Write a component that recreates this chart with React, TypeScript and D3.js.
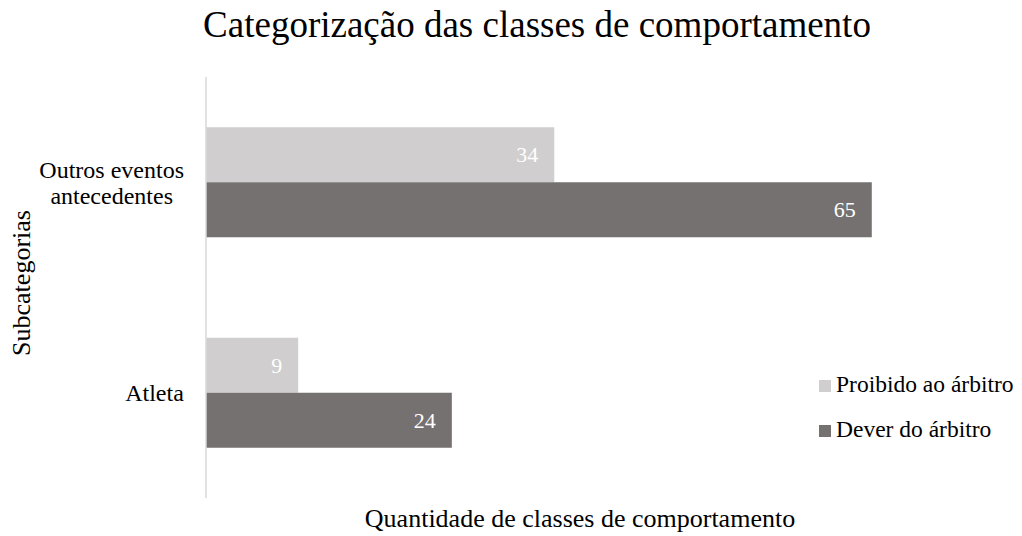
import React, { useEffect, useRef } from "react";
import * as d3 from "d3";

// data
const categories = ["Outros eventos antecedentes", "Atleta"];
const categoryLines = [["Outros eventos", "antecedentes"], ["Atleta"]];
const seriesNames = ["Proibido ao árbitro", "Dever do árbitro"];
const proibidoValues = [34, 9];
const deverValues = [65, 24];
const seriesColors = ["#d0cece", "#767171"];

const FONT = "'Liberation Serif', 'Times New Roman', serif";

const App = () => {
  const ref: any = useRef(null);
  const width = 1022;
  const height = 536;
  const margin = { top: 77, right: 99, bottom: 38, left: 206 };

  useEffect(() => {
    const root = d3.select(ref.current);
    root.selectAll("*").remove();

    const svg = root
      .append("svg")
      .attr("width", width)
      .attr("height", height)
      .style("display", "block")
      .style("font-family", FONT);

    const x = d3
      .scaleLinear()
      .domain([0, 70])
      .range([margin.left, width - margin.right]);

    const y = d3
      .scaleBand()
      .domain(categories)
      .range([margin.top, height - margin.bottom])
      .paddingInner(0.4774)
      .paddingOuter(0.2387);

    const ySeries = d3
      .scaleBand()
      .domain(seriesNames)
      .range([0, y.bandwidth()]);

    const allValues = [proibidoValues, deverValues];

    // bars + value labels
    seriesNames.forEach((name, si) => {
      const g = svg.append("g");
      g.selectAll("rect")
        .data(categories)
        .join("rect")
        .attr("x", x(0))
        .attr("y", (c) => (y(c) || 0) + (ySeries(name) || 0))
        .attr("width", (c, i) => x(allValues[si][i]) - x(0))
        .attr("height", ySeries.bandwidth())
        .attr("fill", seriesColors[si]);

      g.selectAll("text")
        .data(categories)
        .join("text")
        .attr("x", (c, i) => x(allValues[si][i]) - 16)
        .attr("y", (c) => (y(c) || 0) + (ySeries(name) || 0) + ySeries.bandwidth() / 2)
        .attr("dy", "0.35em")
        .attr("text-anchor", "end")
        .attr("fill", "#ffffff")
        .style("font-size", "22px")
        .text((c, i) => allValues[si][i]);
    });

    // y axis line
    svg
      .append("line")
      .attr("x1", x(0))
      .attr("x2", x(0))
      .attr("y1", margin.top)
      .attr("y2", height - margin.bottom)
      .attr("stroke", "#d9d9d9")
      .attr("stroke-width", 1.5);

    // category labels (centered block, right edge next to axis)
    categories.forEach((c, ci) => {
      const lines = categoryLines[ci];
      const lh = 26;
      const cy = (y(c) || 0) + y.bandwidth() / 2;
      const t = svg
        .append("text")
        .attr("text-anchor", "middle")
        .attr("fill", "#000")
        .style("font-size", "24px");
      lines.forEach((ln, li) => {
        t.append("tspan")
          .attr("x", 0)
          .attr("y", cy + (li - (lines.length - 1) / 2) * lh)
          .attr("dy", "0.35em")
          .text(ln);
      });
      const w = (t.node() as any).getBBox().width;
      t.attr("transform", `translate(${x(0) - 22 - w / 2},0)`);
    });

    // title
    svg
      .append("text")
      .attr("x", 537)
      .attr("y", 37)
      .attr("text-anchor", "middle")
      .attr("fill", "#000")
      .style("font-size", "37px")
      .text("Categorização das classes de comportamento");

    // x axis title
    svg
      .append("text")
      .attr("x", 580)
      .attr("y", 527)
      .attr("text-anchor", "middle")
      .attr("fill", "#000")
      .style("font-size", "26px")
      .text("Quantidade de classes de comportamento");

    // y axis title
    svg
      .append("text")
      .attr("transform", `translate(30,283) rotate(-90)`)
      .attr("text-anchor", "middle")
      .attr("fill", "#000")
      .style("font-size", "26px")
      .text("Subcategorias");

    // legend
    const legend = svg.append("g").attr("transform", "translate(819,380)");
    seriesNames.forEach((name, si) => {
      const lg = legend.append("g").attr("transform", `translate(0,${si * 45})`);
      lg.append("rect")
        .attr("width", 12)
        .attr("height", 12)
        .attr("fill", seriesColors[si]);
      lg.append("text")
        .attr("x", 17)
        .attr("y", 12)
        .attr("fill", "#000")
        .style("font-size", "23.5px")
        .text(name);
    });
  }, []);

  return (
    <div
      ref={ref}
      style={{ position: "absolute", left: 0, top: 0, width, height, background: "#fff" }}
    ></div>
  );
};

export default App;
